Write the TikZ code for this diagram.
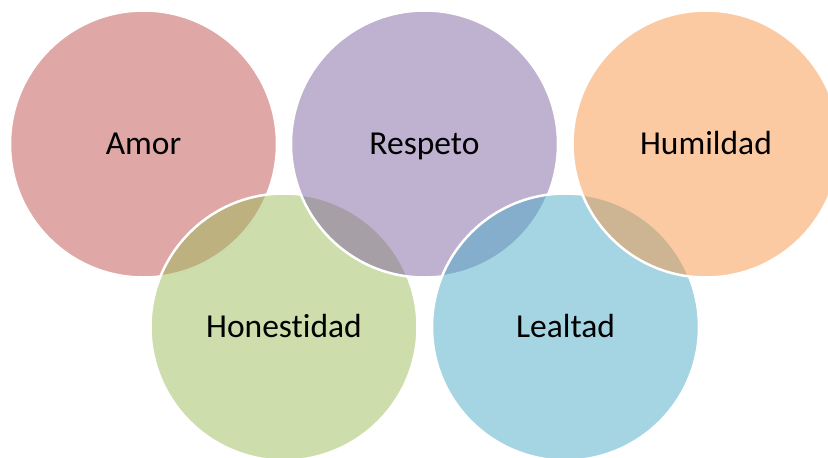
\documentclass[tikz,border=0pt]{standalone}
\usepackage{fontspec}
\setmainfont{Carlito}[Ligatures=NoCommon]
\usepackage{tikz}
\usetikzlibrary{positioning}
\definecolor{amorc}{HTML}{C0504D}
\definecolor{honc}{HTML}{9BBB59}
\definecolor{respc}{HTML}{8064A2}
\definecolor{lealc}{HTML}{4BACC6}
\definecolor{humc}{HTML}{F79646}

\begin{document}
\begin{tikzpicture}[x=1pt,y=-1pt,
  ring/.style={circle,draw=white,line width=2.5pt,fill opacity=.5,text opacity=1,
    minimum size=267pt,inner sep=0pt,text height=21.6pt,text depth=0pt,
    font=\fontsize{33.5}{40}\selectfont}]
\useasboundingbox (0,0) rectangle (828,458);
\clip (0,0) rectangle (828,458);
\node[ring,fill=amorc] (amor) at (143.5,144) {Amor};
\node[ring,fill=honc] (honestidad) at (284,327) {Honestidad};
\node[ring,fill=respc] (respeto) at (424.5,144) {Respeto};
\node[ring,fill=lealc] (lealtad) at (565.5,327) {Lealtad};
\node[ring,fill=humc] (humildad) at (706,144) {Humildad};
\end{tikzpicture}
\end{document}
